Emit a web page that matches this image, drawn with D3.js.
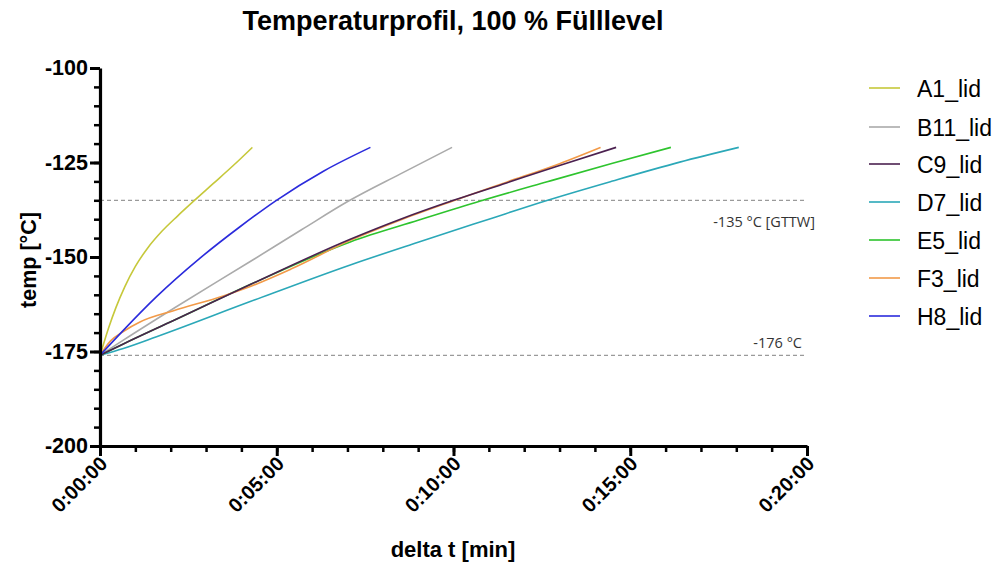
<!DOCTYPE html>
<html>
<head>
<meta charset="utf-8">
<script src="https://cdn.jsdelivr.net/npm/d3@7"></script>
<style>
	body { margin: 0; background: #fff; }
	svg { font-family: "Liberation Sans", Arial, sans-serif; }
</style>
</head>
<body>
<div id="chart"></div>
<script>

// Series names + colors
var names = ["A1_lid", "B11_lid", "C9_lid", "D7_lid", "E5_lid", "F3_lid", "H8_lid"];
var colors = ["#c6c83a", "#ababab", "#4b2150", "#2ba8b8", "#2ec42e", "#f29a48", "#2b2bdc"];

// time in minutes, temp in °C
var tA1 = [0, 0.1, 0.25, 0.45, 0.7, 1.0, 1.35, 1.75, 2.2, 2.64, 3.2, 3.77, 4.31];
var vA1 = [-176, -173, -168.6, -163.4, -157.9, -152.5, -147.6, -143.2, -139.1, -135.3, -130.6, -125.8, -121];

var tB11 = [0, 0.66, 2.17, 4.25, 5.7, 7.03, 8.5, 9.96];
var vB11 = [-176, -172, -163.1, -151.2, -142.8, -135.2, -128, -121];

var tC9 = [0, 0.66, 2.08, 4.25, 7.08, 8.5, 10.0, 11.5, 13.0, 14.6];
var vC9 = [-176, -173, -166.8, -157.3, -145.3, -140, -135, -130.4, -125.8, -121];

var tD7 = [0, 0.66, 1.6, 4.25, 7.08, 9.0, 11.0, 12.55, 14.5, 16.4, 18.07];
var vD7 = [-176, -174.2, -171.1, -161.8, -152.1, -146.1, -140.0, -135.3, -129.9, -124.9, -121];

var tE5 = [0, 0.66, 2.08, 4.25, 7.08, 9.0, 10.76, 12.65, 14.5, 16.15];
var vE5 = [-176, -173, -166.8, -157.3, -146, -140.3, -135.2, -130.1, -125.2, -121];

var tF3 = [0, 0.3, 0.66, 1.13, 2.08, 3.49, 4.25, 5.4, 7.08, 8.5, 10.0, 11.5, 13.0, 14.16];
var vF3 = [-176, -172.2, -169.7, -167.2, -164.2, -160.3, -157.8, -153.2, -145.6, -140.2, -135.1, -130.2, -125.3, -121];

var tH8 = [0, 0.66, 1.6, 2.83, 3.96, 4.96, 6.32, 7.65];
var vH8 = [-176, -169.4, -160.5, -150.3, -142, -135.2, -127.3, -121];

var times = [tA1, tB11, tC9, tD7, tE5, tF3, tH8];
var temps = [vA1, vB11, vC9, vD7, vE5, vF3, vH8];

// axis ticks
var xTicks = [0, 5, 10, 15, 20];
var xMinor = d3.range(0, 21, 1);
var yTicks = [-100, -125, -150, -175, -200];
var yMinor = d3.range(-200, -99, 5);

// reference lines
var refValues = [-135, -176];
var refLabels = ["-135 °C [GTTW]", "-176 °C"];

var W = 999, H = 567;
var pLeft = 100, pRight = 807, pTop = 68, pBottom = 446;

var svg = d3.select("#chart").append("svg")
	.attr("width", W)
	.attr("height", H);

var x = d3.scaleLinear().domain([0, 20]).range([pLeft, pRight]);
var y = d3.scaleLinear().domain([-200, -100]).range([pBottom, pTop]);

function fmtTime(m) {
	return "0:" + (m < 10 ? "0" + m : m) + ":00";
}

// title
svg.append("text")
	.attr("x", 453).attr("y", 30)
	.attr("text-anchor", "middle")
	.style("font-size", "27px").style("font-weight", "bold")
	.text("Temperaturprofil, 100 % Fülllevel");

// reference lines (dashed)
refValues.forEach(function(v, i) {
	svg.append("line")
		.attr("x1", x(0)).attr("x2", x(20) - 2)
		.attr("y1", y(v)).attr("y2", y(v))
		.attr("stroke", "#9a9a9a")
		.attr("stroke-width", 1.2)
		.attr("stroke-dasharray", "4,3");
});
svg.append("text")
	.attr("x", 815).attr("y", 227)
	.attr("text-anchor", "end")
	.style("font-family", "'Open Sans', sans-serif")
	.style("font-size", "14.5px").attr("fill", "#333")
	.text(refLabels[0]);
svg.append("text")
	.attr("x", 802).attr("y", 348)
	.attr("text-anchor", "end")
	.style("font-family", "'Open Sans', sans-serif")
	.style("font-size", "14.5px").attr("fill", "#333")
	.text(refLabels[1]);

// data lines
var line = d3.line()
	.x(function(d) { return x(d[0]); })
	.y(function(d) { return y(d[1]); })
	.curve(d3.curveMonotoneX);

// draw in an order so dark ones sit on top like the original
var order = [1, 3, 4, 5, 2, 0, 6];
order.forEach(function(i) {
	var pts = times[i].map(function(t, j) { return [t, temps[i][j]]; });
	svg.append("path")
		.datum(pts)
		.attr("fill", "none")
		.attr("stroke", colors[i])
		.attr("stroke-width", 1.6)
		.attr("d", line);
});

// minor ticks
svg.append("g")
	.attr("transform", "translate(0," + pBottom + ")")
	.call(d3.axisBottom(x).tickValues(xMinor).tickSize(6).tickSizeOuter(0).tickFormat(""))
	.call(function(g) { g.selectAll("line").attr("stroke-width", 2.5); g.select(".domain").remove(); });
svg.append("g")
	.attr("transform", "translate(" + pLeft + ",0)")
	.call(d3.axisLeft(y).tickValues(yMinor).tickSize(6).tickSizeOuter(0).tickFormat(""))
	.call(function(g) { g.selectAll("line").attr("stroke-width", 2.5); g.select(".domain").remove(); });

// major x axis
var gx = svg.append("g")
	.attr("transform", "translate(0," + pBottom + ")")
	.call(d3.axisBottom(x).tickValues(xTicks).tickSize(10).tickSizeOuter(0).tickFormat(fmtTime));
gx.select(".domain").attr("stroke-width", 3.2);
gx.selectAll(".tick line").attr("stroke-width", 3);
gx.selectAll(".tick text")
	.attr("y", 0).attr("dy", 0)
	.attr("transform", "translate(8,19) rotate(-45)")
	.attr("text-anchor", "end")
	.style("font-size", "20px").style("font-weight", "bold")
	.attr("fill", "#000");

// major y axis (plain hyphen like the original)
var gy = svg.append("g")
	.attr("transform", "translate(" + pLeft + ",0)")
	.call(d3.axisLeft(y).tickValues(yTicks).tickSize(10).tickSizeOuter(0)
		.tickFormat(function(d) { return String(d); }));
gy.select(".domain").attr("stroke-width", 3.2);
gy.selectAll(".tick line").attr("stroke-width", 3);
gy.selectAll(".tick text")
	.attr("x", -12)
	.style("font-size", "21.5px").style("font-weight", "bold")
	.attr("fill", "#000");

// axis titles
svg.append("text")
	.attr("x", 453).attr("y", 557)
	.attr("text-anchor", "middle")
	.style("font-size", "22px").style("font-weight", "bold")
	.text("delta t [min]");
svg.append("text")
	.attr("transform", "translate(36,260) rotate(-90)")
	.attr("text-anchor", "middle")
	.style("font-size", "21.5px").style("font-weight", "bold")
	.text("temp [°C]");

// legend
var legY = [88, 127, 164, 202, 240, 278, 316];
var leg = svg.selectAll("g.leg")
	.data(names)
	.enter()
		.append("g")
		.attr("class", "leg")
		.attr("transform", function(d, i) { return "translate(869," + legY[i] + ")"; });
leg.append("line")
	.attr("x1", 0).attr("x2", 31)
	.attr("stroke", function(d, i) { return colors[i]; })
	.attr("stroke-width", 1.6);
leg.append("text")
	.attr("x", 48).attr("y", 9)
	.style("font-size", "23px")
	.text(function(d) { return d; });

</script>
</body>
</html>
